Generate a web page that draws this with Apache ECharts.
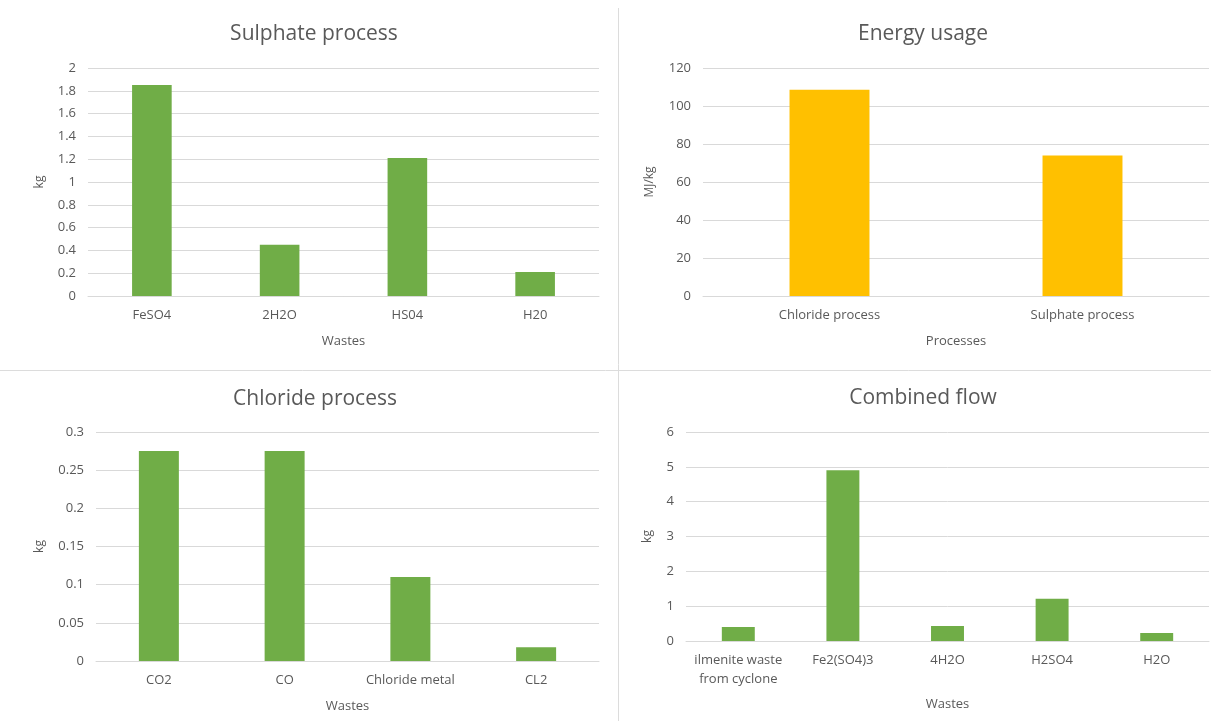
<!DOCTYPE html>
<html>
<head>
    <meta charset="utf-8">
    <title>Process wastes and energy</title>
    <script src="https://cdn.jsdelivr.net/npm/echarts@6/dist/echarts.min.js"></script>
    <style type="text/css">
        html, body{
            margin: 0;
            padding: 0;
            background: #fff;
        }
        #main{
            width: 1211px;
            height: 721px;
        }
    </style>
</head>
<body>
<div id="main"></div>
<script>
    // sulphate process wastes (kg)
    var sulphateCats = ["FeSO4", "2H2O", "HS04", "H20"];
    var sulphateVals = [1.85, 0.45, 1.21, 0.21];

    // energy usage (MJ/kg)
    var energyCats = ["Chloride process", "Sulphate process"];
    var energyVals = [108.5, 74];

    // chloride process wastes (kg)
    var chlorideCats = ["CO2", "CO", "Chloride metal", "CL2"];
    var chlorideVals = [0.275, 0.275, 0.11, 0.018];

    // combined flow wastes (kg)
    var combinedCats = ["ilmenite waste\nfrom cyclone", "Fe2(SO4)3", "4H2O", "H2SO4", "H2O"];
    var combinedVals = [0.4, 4.9, 0.43, 1.21, 0.23];

    var green = '#70ad47';
    var gold = '#ffc000';
    var txt = '#595959';
    var line = '#d9d9d9';
    var font = 'Open Sans';

    function xAx(grid, cats, name, gap) {
        return {
            type: 'category', gridIndex: grid, data: cats,
            name: name, nameLocation: 'middle', nameGap: gap,
            nameTextStyle: {color: txt, fontSize: 13, fontFamily: font},
            axisLine: {lineStyle: {color: line}},
            axisTick: {show: false},
            axisLabel: {color: txt, fontSize: 13, fontFamily: font, margin: 10, interval: 0, lineHeight: 19}
        };
    }
    function yAx(grid, max, interval, name, gap) {
        return {
            type: 'value', gridIndex: grid, min: 0, max: max, interval: interval,
            name: name, nameLocation: 'middle', nameGap: gap,
            nameTextStyle: {color: txt, fontSize: 12, fontFamily: font},
            axisLine: {show: false},
            axisTick: {show: false},
            axisLabel: {color: txt, fontSize: 13, fontFamily: font, margin: 12},
            splitLine: {lineStyle: {color: line}}
        };
    }
    function ttl(text, x, y) {
        return {
            text: text, left: x, top: y, textAlign: 'center',
            textStyle: {color: txt, fontSize: 21, fontWeight: 'normal', fontFamily: font}
        };
    }

    var myChart = echarts.init(document.getElementById('main'));
    var option = {
        backgroundColor: '#fff',
        animation: false,
        title: [
            ttl('Sulphate process', 309, 19),
            ttl('Energy usage', 918, 19),
            ttl('Chloride process', 310, 384),
            ttl('Combined flow', 918, 383)
        ],
        grid: [
            {left: 88, top: 68, width: 511, height: 228},
            {left: 703, top: 68, width: 506, height: 228},
            {left: 96, top: 432, width: 503, height: 229},
            {left: 686, top: 432, width: 523, height: 209}
        ],
        xAxis: [
            xAx(0, sulphateCats, 'Wastes', 39),
            xAx(1, energyCats, 'Processes', 39),
            xAx(2, chlorideCats, 'Wastes', 39),
            xAx(3, combinedCats, 'Wastes', 57)
        ],
        yAxis: [
            yAx(0, 2, 0.2, 'kg', 42),
            yAx(1, 120, 20, 'MJ/kg', 47),
            yAx(2, 0.3, 0.05, 'kg', 50),
            yAx(3, 6, 1, 'kg', 32)
        ],
        series: [
            {type: 'bar', xAxisIndex: 0, yAxisIndex: 0, data: sulphateVals, barWidth: '31%', itemStyle: {color: green}},
            {type: 'bar', xAxisIndex: 1, yAxisIndex: 1, data: energyVals, barWidth: '31.6%', itemStyle: {color: gold}},
            {type: 'bar', xAxisIndex: 2, yAxisIndex: 2, data: chlorideVals, barWidth: '31.8%', itemStyle: {color: green}},
            {type: 'bar', xAxisIndex: 3, yAxisIndex: 3, data: combinedVals, barWidth: '31.5%', itemStyle: {color: green}}
        ],
        graphic: [
            {type: 'line', shape: {x1: 618.5, y1: 8, x2: 618.5, y2: 721}, style: {stroke: '#dcdcdc', lineWidth: 1}},
            {type: 'line', shape: {x1: 0, y1: 370.5, x2: 1211, y2: 370.5}, style: {stroke: '#dcdcdc', lineWidth: 1}}
        ]
    };
    myChart.setOption(option);
</script>
</body>
</html>
